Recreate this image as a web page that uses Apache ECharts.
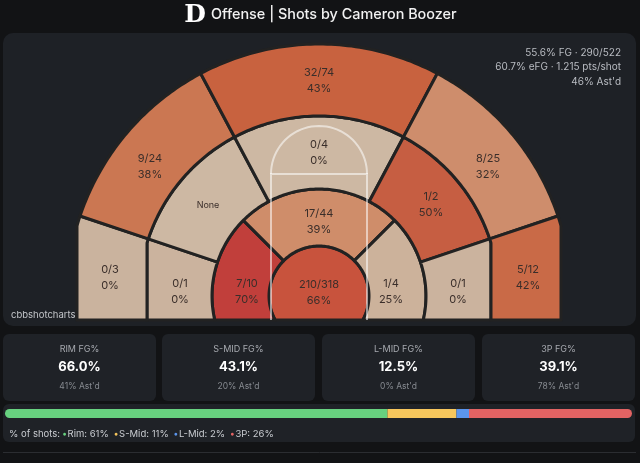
<!DOCTYPE html>
<html>
<head>
<meta charset="utf-8">
<script src="https://cdn.jsdelivr.net/npm/echarts@6/dist/echarts.min.js"></script>
<style>
  html, body { margin: 0; padding: 0; background: #121315; }
  #chart { width: 640px; height: 463px; }
</style>
</head>
<body>
<div id="chart"></div>
<script>
// zones: rim, short mid (L/C/R), long mid (BL/L/C/R/BR), threes (corner L, wing L, top, wing R, corner R)
var zoneNames = ['Rim', 'S-Mid L', 'S-Mid C', 'S-Mid R', 'L-Mid BL', 'L-Mid L', 'L-Mid C', 'L-Mid R', 'L-Mid BR',
                 'Corner 3 L', 'Wing 3 L', 'Top 3', 'Wing 3 R', 'Corner 3 R'];
var zoneMade =     [210, 7, 17, 1, 0, 0, 0, 1, 0, 0, 9, 32, 8, 5];
var zoneAttempts = [318, 10, 44, 4, 1, 0, 4, 2, 1, 3, 24, 74, 25, 12];
var zoneGroup =    [0, 1, 1, 1, 2, 2, 2, 2, 2, 3, 3, 3, 3, 3];

var groupTitles = ['RIM FG%', 'S-MID FG%', 'L-MID FG%', '3P FG%'];
var groupShort = ['Rim', 'S-Mid', 'L-Mid', '3P'];
var groupAstd = [41, 20, 0, 78];
var totalAstd = 46;

// fill colour of each zone (same order as zoneNames)
var zoneColors = ['#c8533d', '#c13f3b', '#cf8d6a', '#ccb29b', '#cbb39e', '#cdb8a3', '#cdb8a3', '#c65e42', '#cbb39e',
                  '#cab39e', '#cb7752', '#c8623f', '#ce8d6c', '#c96a47'];
var groupColors = ['#67d17f', '#f6c65c', '#5b95ec', '#e26363'];

// ---- totals
var totMade = 0, totAtt = 0, threeMade = 0;
var gMade = [0, 0, 0, 0], gAtt = [0, 0, 0, 0];
zoneMade.forEach(function (m, i) {
  totMade += m; totAtt += zoneAttempts[i];
  gMade[zoneGroup[i]] += m; gAtt[zoneGroup[i]] += zoneAttempts[i];
});
threeMade = gMade[3];
var fgPct = (totMade / totAtt * 100).toFixed(1);
var efgPct = ((totMade + 0.5 * threeMade) / totAtt * 100).toFixed(1);
var ptsShot = ((2 * (totMade - threeMade) + 3 * threeMade) / totAtt).toFixed(3);
var shares = gAtt.map(function (a) { return Math.round(a / totAtt * 100); });

// ---- court geometry (units = px, origin at basket centre)
var BASE = -24;
var B = {
  rim:   { r: 50 },
  smid:  { r: 107 },
  three: { r: 180, side: 172 },
  outer: { r: 252, side: 242 }
};
var zoneShapes = [
  { inner: null,    outer: 'rim',   a0: 'R',   a1: 'L',   label: [0, 3] },
  { inner: 'rim',   outer: 'smid',  a0: 135,   a1: 'L',   label: [-72, 4] },
  { inner: 'rim',   outer: 'smid',  a0: 45,    a1: 135,   label: [0, 74] },
  { inner: 'rim',   outer: 'smid',  a0: 'R',   a1: 45,    label: [72, 4] },
  { inner: 'smid',  outer: 'three', a0: 161.5, a1: 'L',   label: [-139, 4] },
  { inner: 'smid',  outer: 'three', a0: 118,   a1: 161.5, label: [-111, 91] },
  { inner: 'smid',  outer: 'three', a0: 62,    a1: 118,   label: [0, 143] },
  { inner: 'smid',  outer: 'three', a0: 18.5,  a1: 62,    label: [112, 91] },
  { inner: 'smid',  outer: 'three', a0: 'R',   a1: 18.5,  label: [139, 4] },
  { inner: 'three', outer: 'outer', a0: 161.5, a1: 'L',   label: [-209, 18] },
  { inner: 'three', outer: 'outer', a0: 118,   a1: 161.5, label: [-169, 129] },
  { inner: 'three', outer: 'outer', a0: 62,    a1: 118,   label: [0, 215] },
  { inner: 'three', outer: 'outer', a0: 18.5,  a1: 62,    label: [169, 129] },
  { inner: 'three', outer: 'outer', a0: 'R',   a1: 18.5,  label: [209, 18] }
];

function rayPt(b, a) {
  var rad = a * Math.PI / 180, c = Math.cos(rad), s = Math.sin(rad);
  var t = b.r;
  if (b.side && Math.abs(t * c) > b.side) t = b.side / Math.abs(c);
  return [t * c, t * s];
}
function baseAngle(b, key) {
  var x = Math.sqrt(b.r * b.r - BASE * BASE);
  if (b.side && x > b.side) x = b.side;
  var a = Math.atan2(BASE, x) * 180 / Math.PI;
  return key === 'R' ? a : 180 - a;
}
function resolve(b, a) { return typeof a === 'string' ? baseAngle(b, a) : a; }
function edge(b, a0, a1) {
  var pts = [], n = 60;
  for (var i = 0; i <= n; i++) pts.push(rayPt(b, a0 + (a1 - a0) * i / n));
  return pts;
}
function zonePolygon(z) {
  var ob = B[z.outer];
  var pts = edge(ob, resolve(ob, z.a0), resolve(ob, z.a1));
  if (z.inner) {
    var ib = B[z.inner];
    pts = pts.concat(edge(ib, resolve(ib, z.a1), resolve(ib, z.a0)));
  }
  return pts;
}

var chart = echarts.init(document.getElementById('chart'));

var zoneData = zoneNames.map(function (n, i) {
  return { name: n, value: [0, 0, zoneMade[i], zoneAttempts[i]] };
});

function renderZone(params, api) {
  var z = zoneShapes[params.dataIndex];
  var pts = zonePolygon(z).map(function (p) { return api.coord(p); });
  return {
    type: 'polygon',
    shape: { points: pts },
    style: { fill: zoneColors[params.dataIndex], stroke: '#222222', lineWidth: 3, lineJoin: 'round' }
  };
}

function renderLane(params, api) {
  var st = { stroke: 'rgba(255,255,255,0.55)', lineWidth: 2, fill: null };
  var arc = [];
  for (var i = 0; i <= 40; i++) {
    var a = Math.PI * i / 40;
    arc.push(api.coord([48 * Math.cos(a), 122 + 48 * Math.sin(a)]));
  }
  return {
    type: 'group',
    children: [
      { type: 'polyline', shape: { points: [api.coord([-48, BASE]), api.coord([-48, 122]), api.coord([48, 122]), api.coord([48, BASE])] }, style: st },
      { type: 'polyline', shape: { points: arc }, style: st }
    ]
  };
}

function renderLabel(params, api) {
  var made = api.value(2), att = api.value(3);
  var p = api.coord(zoneShapes[params.dataIndex].label);
  var txt = att ? made + '/' + att + '\n' + Math.round(made / att * 100) + '%' : 'None';
  return {
    type: 'text',
    style: {
      text: txt, x: p[0], y: p[1],
      align: 'center', verticalAlign: 'middle',
      textAlign: 'center', textVerticalAlign: 'middle',
      font: att ? '11px Inter' : '9px Inter', lineHeight: 16, fill: '#3a2e2a'
    }
  };
}

// ---- cards and texts
var cardX = [3, 162, 322, 482];
var graphics = [
  { type: 'rect', z: 0, shape: { x: 3, y: 33, width: 633, height: 293, r: 10 }, style: { fill: '#1e2126' } },
  { type: 'text', z: 1, style: { text: 'cbbshotcharts.com', x: 11, y: 315, verticalAlign: 'middle', textVerticalAlign: 'middle', font: '9.5px Inter', fill: '#c4c6ca' } },
  { type: 'text', z: 5, style: { text: 'D', x: 195, y: 15, align: 'center', verticalAlign: 'middle', textAlign: 'center', textVerticalAlign: 'middle', font: 'bold 25px "DejaVu Serif"', fill: '#ffffff' } },
  { type: 'text', z: 5, style: { text: 'Offense | Shots by Cameron Boozer', x: 211, y: 15, verticalAlign: 'middle', textVerticalAlign: 'middle', font: '500 14.4px Inter', fill: '#f2f2f2' } },
  { type: 'text', z: 5, style: { text: fgPct + '% FG · ' + totMade + '/' + totAtt + '\n' + efgPct + '% eFG · ' + ptsShot + ' pts/shot\n' + totalAstd + "% Ast'd",
      x: 621, y: 67, align: 'right', verticalAlign: 'middle', textAlign: 'right', textVerticalAlign: 'middle', font: '10px Inter', lineHeight: 14.5, fill: '#b9bcc2' } },
  { type: 'rect', z: 0, shape: { x: 3, y: 404, width: 632, height: 38, r: 6 }, style: { fill: '#1f2227' } },
  { type: 'line', z: 0, shape: { x1: 3, y1: 452.5, x2: 636, y2: 452.5 }, style: { stroke: '#2b2d31', lineWidth: 1 } }
];
cardX.forEach(function (x, g) {
  var cx = x + 76.5;
  var pct = (gMade[g] / gAtt[g] * 100).toFixed(1) + '%';
  graphics.push(
    { type: 'rect', z: 0, shape: { x: x, y: 334, width: 153, height: 67, r: 6 }, style: { fill: '#1f2227' } },
    { type: 'text', z: 5, style: { text: groupTitles[g], x: cx, y: 349, align: 'center', verticalAlign: 'middle', textAlign: 'center', textVerticalAlign: 'middle', font: '9px Inter', fill: '#a6a9af' } },
    { type: 'text', z: 5, style: { text: pct, x: cx, y: 367, align: 'center', verticalAlign: 'middle', textAlign: 'center', textVerticalAlign: 'middle', font: 'bold 13px Inter', fill: '#ffffff' } },
    { type: 'text', z: 5, style: { text: groupAstd[g] + "% Ast'd", x: cx, y: 386, align: 'center', verticalAlign: 'middle', textAlign: 'center', textVerticalAlign: 'middle', font: '8.5px Inter', fill: '#868a90' } }
  );
});
var legendText = '{t|% of shots: }';
var rich = { t: { fontSize: 9.5, fontFamily: 'Inter', fill: '#c9ccd1', color: '#c9ccd1' } };
groupShort.forEach(function (n, g) {
  legendText += '{d' + g + '|●}{t|' + n + ': ' + shares[g] + '%  }';
  rich['d' + g] = { fontSize: 6.5, color: groupColors[g], fill: groupColors[g], padding: [0, 1, 0, 0] };
});
graphics.push({ type: 'text', z: 5, style: { text: legendText, rich: rich, x: 9, y: 434, verticalAlign: 'middle', textVerticalAlign: 'middle' } });

var barSeries = groupShort.map(function (n, g) {
  var last = g === groupShort.length - 1;
  return {
    name: n, type: 'bar', stack: 'share', xAxisIndex: 1, yAxisIndex: 1,
    barWidth: 9, silent: true,
    itemStyle: { color: groupColors[g], borderRadius: g === 0 ? [5, 0, 0, 5] : (last ? [0, 5, 5, 0] : 0) },
    data: [shares[g]]
  };
});

chart.setOption({
  backgroundColor: '#121315',
  animation: false,
  graphic: { elements: graphics },
  grid: [
    { left: 0, right: 0, top: 0, bottom: 0 },
    { left: 5, right: 8, top: 409, height: 9 }
  ],
  xAxis: [
    { type: 'value', gridIndex: 0, min: -319, max: 321, show: false },
    { type: 'value', gridIndex: 1, min: 0, max: 100, show: false }
  ],
  yAxis: [
    { type: 'value', gridIndex: 0, min: -167, max: 296, show: false },
    { type: 'category', gridIndex: 1, data: ['shots'], show: false }
  ],
  series: [
    { type: 'custom', name: 'zones', z: 2, xAxisIndex: 0, yAxisIndex: 0, renderItem: renderZone, data: zoneData, silent: true },
    { type: 'custom', name: 'lane', z: 3, xAxisIndex: 0, yAxisIndex: 0, renderItem: renderLane, data: [[0, 0]], silent: true },
    { type: 'custom', name: 'labels', z: 4, xAxisIndex: 0, yAxisIndex: 0, renderItem: renderLabel, data: zoneData, silent: true }
  ].concat(barSeries)
});
</script>
</body>
</html>
